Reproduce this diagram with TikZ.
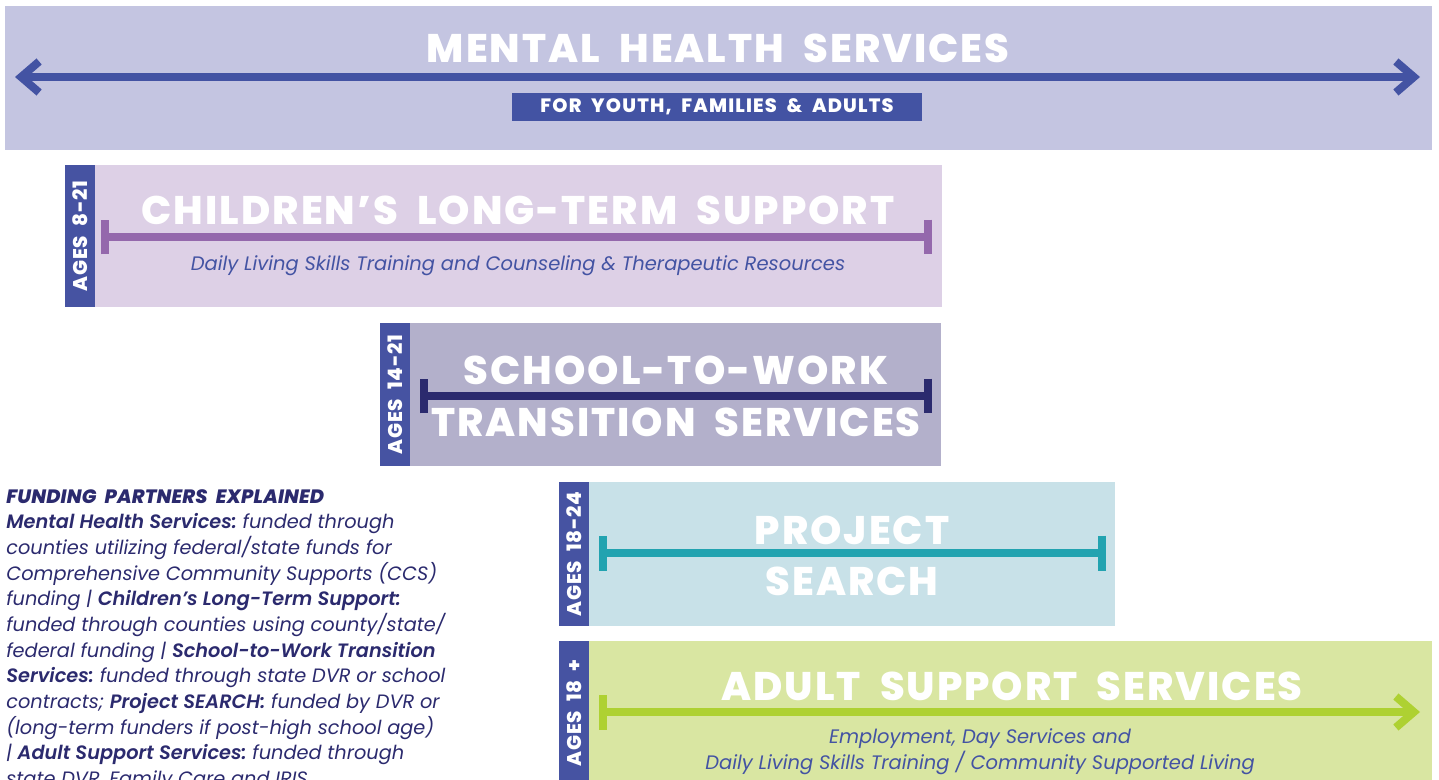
\documentclass[tikz,border=0pt]{standalone}
\usepackage{fontspec}
\setmainfont{Poppins}[BoldFont={* SemiBold},BoldItalicFont={* SemiBold Italic}]
\newfontfamily\heavyfont{Poppins ExtraBold}[ItalicFont={Poppins ExtraBold Italic},Ligatures=TeX,WordSpace=2]
\usetikzlibrary{arrows.meta,positioning}
\definecolor{mhsbg}{HTML}{C4C5E1}
\definecolor{mhsblue}{HTML}{4353A3}
\definecolor{tabblue}{HTML}{4653A2}
\definecolor{cltsbg}{HTML}{DDD0E6}
\definecolor{cltsbar}{HTML}{9468AC}
\definecolor{stwbg}{HTML}{B3B0CB}
\definecolor{stwbar}{HTML}{2B2A6E}
\definecolor{psbg}{HTML}{C8E1E8}
\definecolor{psbar}{HTML}{22A3B0}
\definecolor{assbg}{HTML}{D9E6A2}
\definecolor{assbar}{HTML}{AED132}
\definecolor{navy}{HTML}{2B2A6E}

\begin{document}
\begin{tikzpicture}[x=0.02cm,y=-0.02cm,
    title/.style={anchor=base,text=white,inner sep=0pt,font=\fontsize{22.7}{27}\heavyfont\addfontfeatures{LetterSpace=5}},
    sub/.style={anchor=base,text=mhsblue,inner sep=0pt,font=\fontsize{11.1}{14.6}\selectfont\itshape},
    agelabel/.style={text=white,inner sep=0pt,rotate=90,font=\fontsize{11.3}{14}\heavyfont\addfontfeatures{LetterSpace=4}},
    span/.style={line width=0.16cm},
    barb/.tip={Straight Barb[length=0.36cm,width=0.62cm]},
    cap/.tip={Bar[width=0.7cm]}]
    \useasboundingbox (0,0) rectangle (1439,780);
    \clip (0,0) rectangle (1439,780);

    \fill[mhsbg] (5,6) rectangle (1432,150);
    \node[title] (mhs) at (718,63) {MENTAL HEALTH SERVICES};
    \node[fill=mhsblue,text=white,minimum width=8.2cm,minimum height=0.56cm,inner sep=0pt,
        font=\fontsize{11}{12}\heavyfont\addfontfeatures{LetterSpace=6}] (mhssub) at (717,107) {FOR YOUTH, FAMILIES \& ADULTS};
    \coordinate (mhsL) at (15,77);
    \coordinate (mhsR) at (1420,77);
    \draw[span,mhsblue,barb-barb] (mhsL) -- (mhsR);

    \fill[tabblue] (65,165) rectangle (95,307);
    \fill[cltsbg] (95,165) rectangle (942,307);
    \node[agelabel] (cltsage) at (80,236) {AGES 8-21};
    \node[title] (clts) at (518,225) {CHILDREN’S LONG-TERM SUPPORT};
    \node[sub] (cltssub) at (518,271) {Daily Living Skills Training and Counseling \& Therapeutic Resources};
    \coordinate (cltsL) at (101,237);
    \coordinate (cltsR) at (932,237);
    \draw[span,cltsbar,cap-cap] (cltsL) -- (cltsR);

    \fill[tabblue] (380,323) rectangle (410,466);
    \fill[stwbg] (410,323) rectangle (941,466);
    \node[agelabel] (stwage) at (395,394.5) {AGES 14-21};
    \coordinate (stwL) at (420,396);
    \coordinate (stwR) at (932,396);
    \draw[span,stwbar,cap-cap] (stwL) -- (stwR);
    \node[title] (stw1) at (676,384) {SCHOOL-TO-WORK};
    \node[title] (stw2) at (676,436) {TRANSITION SERVICES};

    \fill[tabblue] (559,482) rectangle (589,626);
    \fill[psbg] (589,482) rectangle (1115,626);
    \node[agelabel] (psage) at (574,554) {AGES 18-24};
    \coordinate (psL) at (599,553);
    \coordinate (psR) at (1106,553);
    \draw[span,psbar,cap-cap] (psL) -- (psR);
    \node[title] (ps1) at (852,544) {PROJECT};
    \node[title] (ps2) at (852,595) {SEARCH};

    \fill[tabblue] (559,641) rectangle (589,790);
    \fill[assbg] (589,641) rectangle (1432,790);
    \node[agelabel] (assage) at (574,713) {AGES 18 +};
    \node[title] (ass) at (1012,700) {ADULT SUPPORT SERVICES};
    \coordinate (assL) at (599,712);
    \coordinate (assR) at (1420,712);
    \draw[span,assbar,cap-barb] (assL) -- (assR);
    \node[sub] (asssub1) at (980,743) {Employment, Day Services and};
    \node[sub] (asssub2) at (980,769) {Daily Living Skills Training / Community Supported Living};

    \node[anchor=north west,inner sep=0pt,align=left,text=navy,
        font=\fontsize{11}{14.6}\selectfont\itshape\frenchspacing] (funding) at (6,489) {%
        {\heavyfont\itshape\addfontfeatures{LetterSpace=1}FUNDING PARTNERS EXPLAINED}\\
        \textbf{Mental Health Services:} funded through\\
        counties utilizing federal/state funds for\\
        Comprehensive Community Supports (CCS)\\
        funding | \textbf{Children’s Long-Term Support:}\\
        funded through counties using county/state/\\
        federal funding | \textbf{School-to-Work Transition}\\
        \textbf{Services:} funded through state DVR or school\\
        contracts; \textbf{Project SEARCH:} funded by DVR or\\
        (long-term funders if post-high school age)\\
        | \textbf{Adult Support Services:} funded through\\
        state DVR, Family Care and IRIS};
\end{tikzpicture}
\end{document}
